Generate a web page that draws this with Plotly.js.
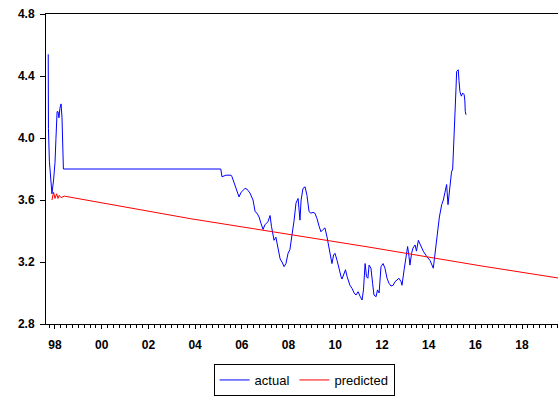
<!DOCTYPE html>
<html>
<head>
<meta charset="utf-8">
<script src="https://cdn.plot.ly/plotly-3.0.1.min.js"></script>
<style>
  html, body { margin: 0; padding: 0; background: #ffffff; }
  #chart { width: 558px; height: 396px; }
</style>
</head>
<body>
<div id="chart"></div>
<script>
// Observed series (decimal year, value)
var actualYears = [
  1997.71, 1997.72, 1997.76, 1997.83, 1997.87, 1997.94, 1998.00, 1998.04, 1998.09, 1998.13,
  1998.17, 1998.21, 1998.26, 1998.30, 1998.34, 1998.36, 2005.10, 2005.15, 2005.32, 2005.54,
  2005.58, 2005.71, 2005.88, 2005.97, 2006.04, 2006.14, 2006.22, 2006.35, 2006.48, 2006.57,
  2006.65, 2006.74, 2006.82, 2006.91, 2006.99, 2007.12, 2007.21, 2007.27, 2007.38, 2007.46,
  2007.55, 2007.64, 2007.72, 2007.81, 2007.89, 2007.98, 2008.06, 2008.15, 2008.24, 2008.32,
  2008.41, 2008.49, 2008.54, 2008.62, 2008.71, 2008.79, 2008.88, 2008.96, 2009.05, 2009.13,
  2009.22, 2009.31, 2009.39, 2009.48, 2009.56, 2009.65, 2009.73, 2009.82, 2009.86, 2009.93,
  2009.99, 2010.08, 2010.16, 2010.25, 2010.29, 2010.38, 2010.44, 2010.51, 2010.59, 2010.63,
  2010.72, 2010.81, 2010.89, 2010.98, 2011.06, 2011.15, 2011.21, 2011.28, 2011.34, 2011.40,
  2011.45, 2011.53, 2011.60, 2011.66, 2011.75, 2011.81, 2011.88, 2011.96, 2012.05, 2012.13,
  2012.22, 2012.30, 2012.39, 2012.48, 2012.56, 2012.65, 2012.73, 2012.82, 2012.86, 2012.95,
  2013.03, 2013.10, 2013.16, 2013.20, 2013.27, 2013.33, 2013.42, 2013.48, 2013.56, 2013.77,
  2013.92, 2014.06, 2014.20, 2014.27, 2014.37, 2014.46, 2014.56, 2014.63, 2014.70, 2014.77,
  2014.83, 2014.92, 2014.98, 2015.03, 2015.06, 2015.12, 2015.17, 2015.20, 2015.27, 2015.30,
  2015.34, 2015.40, 2015.46, 2015.52, 2015.55, 2015.57, 2015.60
];
var actualValues = [
  4.54, 4.06, 3.85, 3.67, 3.64, 3.73, 3.84, 3.99, 4.17, 4.17,
  4.13, 4.19, 4.22, 4.13, 3.90, 3.80, 3.80, 3.75, 3.76, 3.76,
  3.75, 3.69, 3.62, 3.65, 3.66, 3.675, 3.67, 3.645, 3.60, 3.525,
  3.515, 3.49, 3.45, 3.41, 3.44, 3.46, 3.50, 3.43, 3.34, 3.36,
  3.29, 3.22, 3.20, 3.17, 3.19, 3.256, 3.28, 3.37, 3.47, 3.58,
  3.61, 3.47, 3.60, 3.675, 3.685, 3.63, 3.525, 3.515, 3.52, 3.515,
  3.48, 3.43, 3.395, 3.41, 3.42, 3.36, 3.30, 3.22, 3.19, 3.245,
  3.256, 3.21, 3.15, 3.105, 3.09, 3.13, 3.15, 3.105, 3.075, 3.05,
  3.03, 3.00, 2.987, 3.008, 2.98, 2.955, 3.02, 3.19, 3.105, 3.095,
  3.18, 3.16, 3.063, 2.987, 2.976, 3.02, 3.00, 3.17, 3.19, 3.16,
  3.095, 3.063, 3.045, 3.05, 3.073, 3.084, 3.095, 3.073, 3.05, 3.15,
  3.245, 3.30, 3.235, 3.18, 3.256, 3.29, 3.31, 3.27, 3.34, 3.27,
  3.235, 3.21, 3.16, 3.245, 3.385, 3.49, 3.57, 3.60, 3.65, 3.70,
  3.57, 3.72, 3.78, 3.80, 3.94, 4.16, 4.31, 4.43, 4.44, 4.37,
  4.30, 4.27, 4.29, 4.28, 4.245, 4.17, 4.15
];

// Fitted trend (decimal year, value)
var predictedYears = [1997.87, 1997.94, 1998.00, 1998.07, 1998.13, 1998.18, 1998.26, 1998.40,
                      2003.78, 2011.49, 2016.20, 2019.54];
var predictedValues = [3.60, 3.65, 3.61, 3.64, 3.61, 3.63, 3.615, 3.625,
                       3.48, 3.295, 3.176, 3.097];

// Axis labels
var yearTicks = [1998, 2000, 2002, 2004, 2006, 2008, 2010, 2012, 2014, 2016, 2018];
var yearLabels = ['98', '00', '02', '04', '06', '08', '10', '12', '14', '16', '18'];
var valueTicks = [2.8, 3.2, 3.6, 4.0, 4.4, 4.8];
var valueLabels = ['2.8', '3.2', '3.6', '4.0', '4.4', '4.8'];

var traces = [
  {
    x: actualYears, y: actualValues, name: 'actual',
    type: 'scatter', mode: 'lines',
    line: { color: '#0000ff', width: 1 }
  },
  {
    x: predictedYears, y: predictedValues, name: 'predicted',
    type: 'scatter', mode: 'lines',
    line: { color: '#ff0000', width: 1 }
  }
];

var tickFont = { family: 'Liberation Sans, Arial, sans-serif', size: 12, color: '#000000', weight: 'bold' };

var layout = {
  width: 558, height: 396,
  margin: { l: 46, r: 0, t: 14, b: 72, pad: 0, autoexpand: false },
  paper_bgcolor: '#ffffff', plot_bgcolor: '#ffffff',
  showlegend: true,
  xaxis: {
    range: [1997.615, 2019.54],
    tickmode: 'array', tickvals: yearTicks, ticktext: yearLabels,
    ticks: 'outside', ticklen: 4, tickwidth: 1, tickcolor: '#000000',
    minor: { tickmode: 'linear', tick0: 1998, dtick: 0.25, ticks: 'outside', ticklen: 3, tickwidth: 1, tickcolor: '#000000', showgrid: false },
    showline: true, linecolor: '#000000', linewidth: 1, mirror: true,
    showgrid: false, zeroline: false,
    tickfont: tickFont, ticklabelstandoff: 6
  },
  yaxis: {
    range: [2.8, 4.8],
    tickmode: 'array', tickvals: valueTicks, ticktext: valueLabels,
    ticks: 'outside', ticklen: 5, tickwidth: 1, tickcolor: '#000000',
    showline: true, linecolor: '#000000', linewidth: 1, mirror: false,
    showgrid: false, zeroline: false,
    tickfont: tickFont, ticklabelstandoff: 3
  },
  legend: {
    orientation: 'h',
    xref: 'container', yref: 'container',
    x: 0.545, xanchor: 'center',
    y: -0.005, yanchor: 'bottom',
    bgcolor: '#ffffff', bordercolor: '#000000', borderwidth: 1,
    font: { family: 'Liberation Sans, Arial, sans-serif', size: 13, color: '#000000' },
    traceorder: 'normal'
  }
};

Plotly.newPlot('chart', traces, layout, { displayModeBar: false, staticPlot: true });
</script>
</body>
</html>
